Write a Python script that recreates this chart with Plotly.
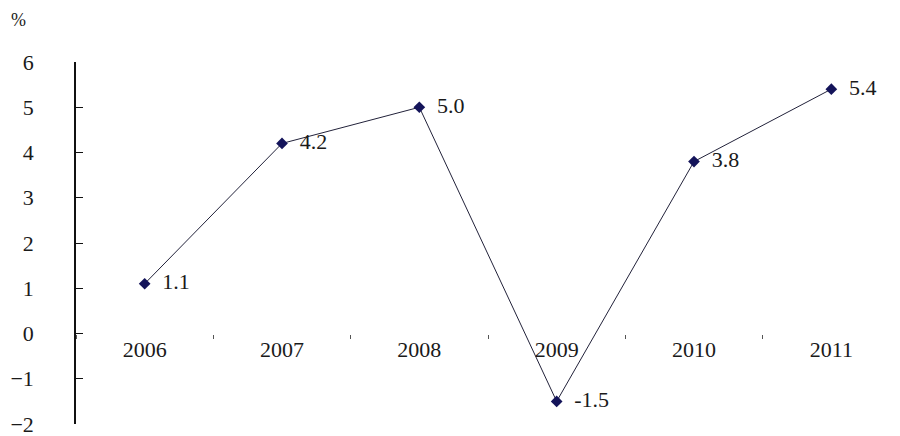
import plotly.graph_objects as go

years = ["2006", "2007", "2008", "2009", "2010", "2011"]
growth = [1.1, 4.2, 5.0, -1.5, 3.8, 5.4]
y_ticks = [-2, -1, 0, 1, 2, 3, 4, 5, 6]

FONT = "Liberation Serif"
INK = "#1a1a1a"

fig = go.Figure()
fig.add_trace(go.Scatter(
    x=years, y=growth,
    mode="lines+markers+text",
    line=dict(color="#22223a", width=1),
    marker=dict(symbol="diamond", size=9, color="#14145a"),
    texttemplate="  %{y:.1f}",
    textposition="middle right",
    textfont=dict(family=FONT, size=22, color=INK),
    cliponaxis=False,
    showlegend=False,
    hoverinfo="skip",
))

fig.update_layout(
    width=900, height=436,
    margin=dict(l=76, r=0, t=62, b=12, autoexpand=False),
    paper_bgcolor="white", plot_bgcolor="white",
    font=dict(family=FONT, size=22, color=INK),
    xaxis=dict(
        type="category", automargin=False,
        anchor="free", position=0.25,
        showline=False, showgrid=False, zeroline=False,
        ticks="outside", tickson="boundaries", ticklen=4, tickcolor="#555",
        ticklabelstandoff=0,
        range=[-0.5, 5.5],
    ),
    yaxis=dict(
        range=[-2, 6], automargin=False,
        tickvals=y_ticks,
        showline=True, linecolor="#111", linewidth=1.5,
        showgrid=False, zeroline=False,
        ticks="inside", ticklen=7, tickcolor="#111",
        ticklabelstandoff=36,
        ticklabeloverflow="allow",
    ),
    annotations=[dict(
        text="%", xref="paper", yref="paper", x=-0.070, y=1.116,
        xanchor="center", yanchor="middle",
        showarrow=False, font=dict(family=FONT, size=18, color=INK),
    )],
)

fig.write_html("out.html", config={"displayModeBar": False},
               post_script="document.body.style.margin='0';")
